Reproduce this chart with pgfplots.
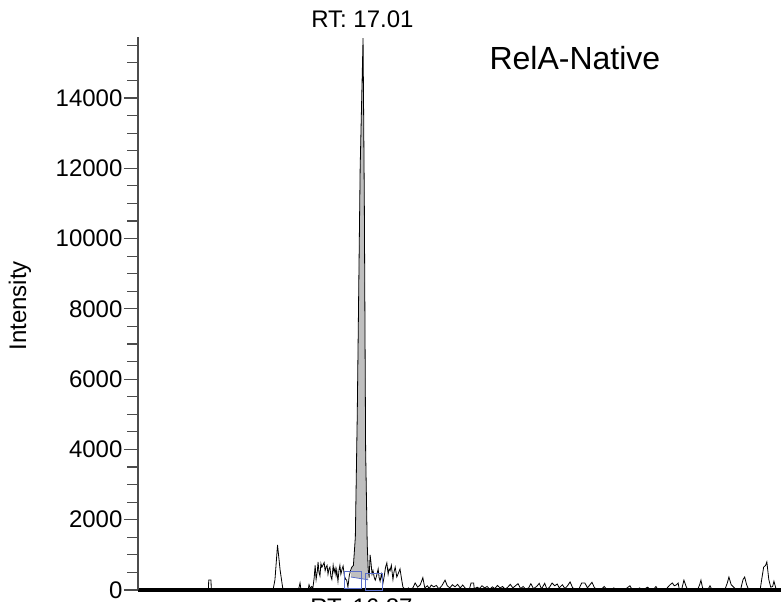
\documentclass[border=0pt]{standalone}
\usepackage{pgfplots}
\pgfplotsset{compat=1.18}
\usepackage{fontspec}
\setmainfont{Liberation Sans}
\definecolor{boxblue}{RGB}{90,110,200}
\begin{document}
\begin{tikzpicture}
\path[use as bounding box] (-103.5pt,-9pt) rectangle (482.25pt,442.5pt);
\begin{axis}[
  scale only axis, width=482.25pt, height=414.75pt,
  xmin=10, xmax=30, ymin=0, ymax=15736,
  axis x line*=bottom, axis y line*=left,
  x axis line style={line width=3pt, black},
  y axis line style={line width=0.9pt, black!70},
  xtick=\empty,
  ytick={0,2000,...,14000},
  minor ytick={500,1000,...,15500},
  tick align=outside,
  major tick length=10.5pt, minor tick length=8pt,
  every tick/.style={black!70, line width=0.9pt},
  /pgf/number format/assume math mode=true,
  /pgf/number format/1000 sep={},
  scaled y ticks=false,
  y tick label style={font=\fontsize{18}{20}\selectfont, inner sep=1pt},
  ylabel={Intensity},
  ylabel style={at={(axis description cs:-0.1835,0.5136)}, anchor=center, font=\fontsize{18}{20}\selectfont},
  clip=false,
]
% filled peak area
\addplot[fill=black!25, draw=none] coordinates {
(16.62,370) (16.65,650) (16.70,700) (16.76,1500) (16.82,5000) (16.91,12000)
(17.00,15700) (17.04,11000) (17.08,4000) (17.13,1300) (17.16,600) (17.16,290) (16.62,370)
};
% trace
\addplot[black, line width=0.6pt] coordinates {
(10.00,0) (12.19,0) (12.20,285) (12.27,285) (12.28,0) (14.17,0) (14.21,50) (14.26,290)
(14.34,1280) (14.42,570) (14.51,0) (14.98,0) (15.01,80) (15.04,200) (15.07,0) (15.29,0)
(15.32,150) (15.36,40) (15.40,100) (15.44,60) (15.48,350) (15.51,700) (15.54,300) (15.58,550)
(15.60,800) (15.63,500) (15.66,400) (15.69,750) (15.72,650) (15.76,720) (15.79,780) (15.82,550)
(15.85,650) (15.88,700) (15.91,450) (15.94,600) (15.97,650) (16.00,380) (16.03,300) (16.07,700)
(16.10,500) (16.13,620) (16.16,420) (16.18,570) (16.22,250) (16.25,550) (16.28,700) (16.31,450)
(16.35,600) (16.38,680) (16.42,400) (16.46,300) (16.49,285) (16.53,85) (16.57,400) (16.61,550)
(16.65,650) (16.70,700) (16.76,1500) (16.82,5000) (16.91,12000) (17.00,15700) (17.04,11000)
(17.08,4000) (17.13,1300) (17.16,600) (17.19,350) (17.22,1000) (17.25,750) (17.28,450)
(17.31,550) (17.35,350) (17.38,280) (17.42,400) (17.47,600) (17.50,350) (17.53,250) (17.57,450)
(17.62,200) (17.66,400) (17.70,650) (17.74,770) (17.78,450) (17.81,600) (17.84,550) (17.88,700)
(17.93,300) (17.96,500) (18.00,650) (18.05,370) (18.10,480) (18.15,600) (18.20,300) (18.24,85)
(18.30,30) (18.36,0) (18.41,60) (18.46,20) (18.55,60) (18.62,200) (18.70,80) (18.78,150)
(18.86,350) (18.92,60) (19.00,120) (19.06,40) (19.12,140) (19.20,90) (19.28,130) (19.36,30)
(19.45,120) (19.55,280) (19.62,120) (19.70,60) (19.78,150) (19.86,90) (19.94,160) (20.02,60)
(20.10,140) (20.20,30) (20.30,0) (20.36,200) (20.44,200) (20.46,30) (20.55,80) (20.62,40)
(20.70,120) (20.78,60) (20.86,100) (20.94,20) (21.02,90) (21.10,40) (21.18,130) (21.26,60)
(21.34,100) (21.42,20) (21.50,80) (21.58,160) (21.66,60) (21.74,120) (21.82,180) (21.90,40)
(21.98,100) (22.06,20) (22.15,60) (22.22,180) (22.30,40) (22.40,100) (22.48,190) (22.55,30)
(22.65,190) (22.72,20) (22.80,80) (22.88,200) (22.96,120) (23.04,170) (23.10,60) (23.20,150)
(23.28,40) (23.36,120) (23.44,230) (23.52,60) (23.60,30) (23.70,0) (23.80,200) (23.90,200)
(23.98,60) (24.06,150) (24.12,220) (24.20,60) (24.28,30) (24.40,0) (24.50,100) (24.58,20)
(24.70,0) (24.80,60) (24.90,0) (25.00,40) (25.10,0) (25.20,50) (25.30,120) (25.36,30)
(25.50,0) (25.60,60) (25.70,0) (25.85,80) (25.95,0) (26.05,30) (26.11,100) (26.18,0)
(26.40,0) (26.55,150) (26.62,200) (26.68,120) (26.75,150) (26.80,200) (26.84,0) (26.92,50)
(26.98,280) (27.05,100) (27.10,0) (27.40,0) (27.47,150) (27.51,280) (27.56,60) (27.65,0)
(27.75,50) (27.79,120) (27.85,20) (27.95,0) (28.25,0) (28.33,200) (28.38,370) (28.45,150)
(28.55,60) (28.62,0) (28.74,0) (28.82,300) (28.87,370) (28.93,150) (29.00,0) (29.35,0)
(29.40,300) (29.46,650) (29.52,700) (29.56,800) (29.62,300) (29.68,80) (29.74,100) (29.78,250)
(29.84,50) (29.90,0) (30.00,0)
};
% integration baseline and boundary boxes
\draw[boxblue, line width=0.6pt] (axis cs:16.62,370) -- (axis cs:17.16,290);
\draw[boxblue, line width=0.6pt] (axis cs:16.41,57) rectangle (axis cs:16.94,540);
\draw[boxblue, line width=0.6pt] (axis cs:17.08,0) rectangle (axis cs:17.61,484);
% labels
\node[anchor=base, inner sep=0pt, font=\fontsize{18}{20}\selectfont] at (axis cs:16.98,15736) [yshift=6.75pt] {RT: 17.01};
\node[anchor=north, inner sep=0pt, font=\fontsize{18}{20}\selectfont] at (axis cs:16.95,0) [yshift=-6pt] {RT: 16.87};
\node[anchor=base, inner sep=0pt, font=\fontsize{24}{28}\selectfont] at (axis cs:23.59,14798) {RelA-Native};
\end{axis}
\end{tikzpicture}
\end{document}
